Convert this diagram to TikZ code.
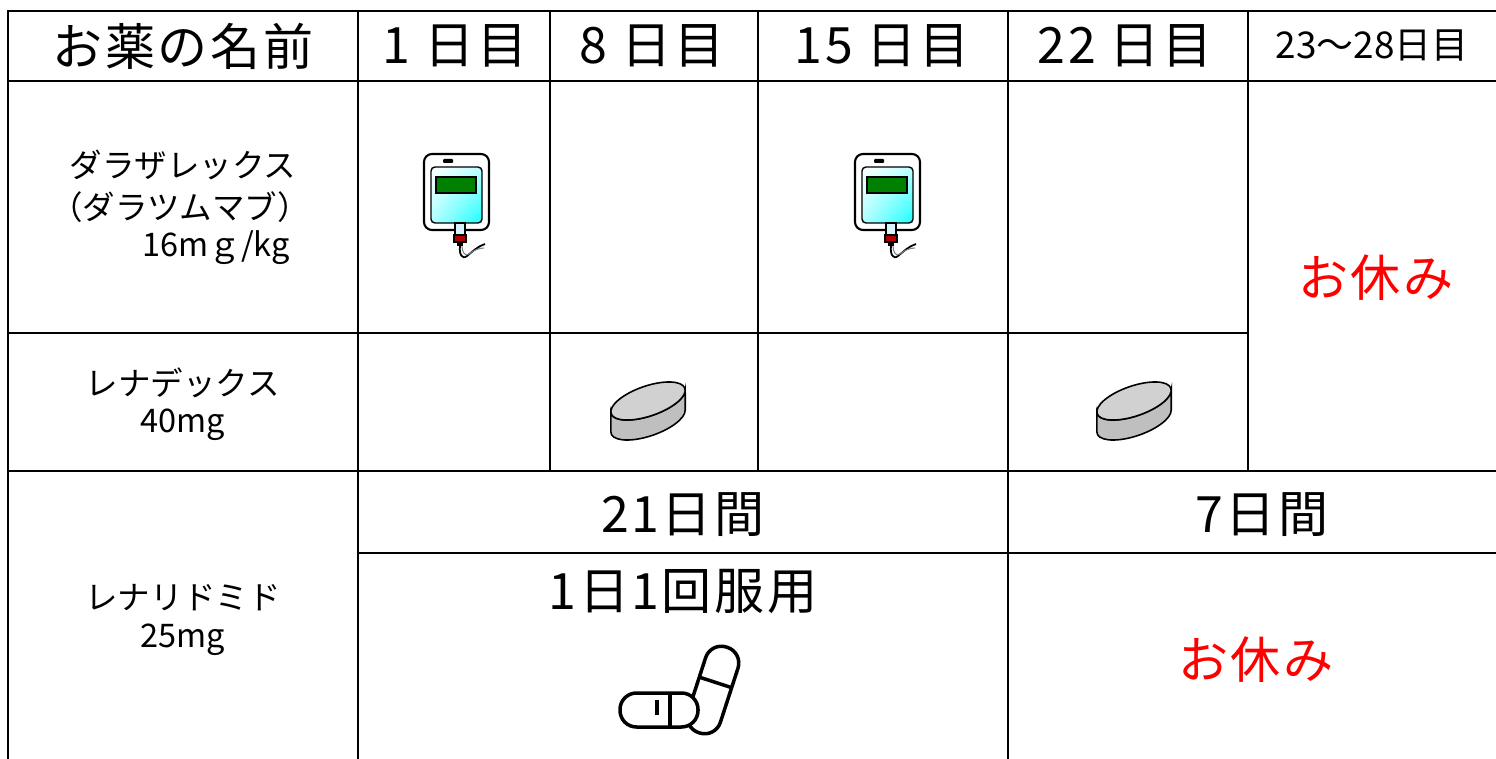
\documentclass[tikz,border=0pt]{standalone}
\usepackage{fontspec}
\setmainfont{Noto Sans CJK JP}
\usetikzlibrary{calc,shadings}
\tikzset{
	rule/.style={line width=1.6pt, line cap=rect},
	bigtxt/.style={font=\fontsize{28.5}{30}\selectfont\addfontfeatures{LetterSpace=5}, inner sep=0pt},
	midtxt/.style={font=\fontsize{18.5}{20}\selectfont, inner sep=0pt},
	resttxt/.style={bigtxt, text=red},
	capsule/.style={line width=2pt, rounded corners=0.33cm},
}
\def\ivbag(#1,#2){
	\begin{scope}[shift={(#1,#2)}]
		\draw[line width=1.2pt, fill=white, rounded corners=0.16cm] (-32,-30) rectangle (33,46);
		\shadedraw[line width=0.8pt, rounded corners=0.08cm, upper left=white, upper right=cyan!25, lower left=cyan!30, lower right=cyan!90] (-25,-23) rectangle (26,33);
		\draw[line width=0.8pt, fill=green!50!black] (-20,7) rectangle (20,23);
		\fill[black, rounded corners=0.02cm] (-13,37) rectangle (-3,41);
		\draw[line width=0.6pt, fill=cyan!15] (-1,-23) rectangle (9,-36);
		\draw[line width=0.6pt, fill=red!70!black] (-2,-35) rectangle (10,-42);
		\fill[black] (1,-42) rectangle (7,-46);
		\draw[line width=1pt] (4,-46) .. controls (3,-54) and (6,-60) .. (11,-56) .. controls (16,-52) and (22,-46) .. (29,-44);
		\draw[line width=0.6pt, black!50] (6,-46) .. controls (6,-52) and (9,-57) .. (13,-54) .. controls (18,-50) and (23,-48) .. (28,-48);
	\end{scope}
}
\def\tablet(#1,#2){
	\begin{scope}[shift={(#1,#2)}, rotate=19]
		\filldraw[line width=0.9pt, fill=black!25] (173:39 and 15) -- ++(-6.5,-18.9) arc[start angle=173, end angle=353, x radius=39, y radius=15] -- (353:39 and 15) arc[start angle=353, end angle=173, x radius=39, y radius=15] -- cycle;
		\filldraw[line width=0.9pt, fill=black!18] (0,0) ellipse[x radius=39, y radius=15];
	\end{scope}
}

\begin{document}
\begin{tikzpicture}[x=0.02cm, y=0.02cm]
			%%%%% START %%%%%
			\useasboundingbox (0,0) rectangle (1496,758);
			
			% table rules
			\draw[rule] (8,747) -- (1500,747);
			\draw[rule] (8,677) -- (1500,677);
			\draw[rule] (8,425) -- (1248,425);
			\draw[rule] (8,287) -- (1500,287);
			\draw[rule] (358,205) -- (1500,205);
			\draw[rule] (8,747) -- (8,-5);
			\draw[rule] (358,747) -- (358,-5);
			\draw[rule] (550,747) -- (550,287);
			\draw[rule] (758,747) -- (758,287);
			\draw[rule] (1008,747) -- (1008,-5);
			\draw[rule] (1248,747) -- (1248,287);
			
			% header
			\node[bigtxt] (hname) at (183,712) {お薬の名前};
			\node[bigtxt] (hday1) at (455,712) {1 日目};
			\node[bigtxt] (hday8) at (652,712) {8 日目};
			\node[bigtxt] (hday15) at (882,712) {15 日目};
			\node[bigtxt] (hday22) at (1125,712) {22 日目};
			\node[midtxt, font=\fontsize{21}{22}\selectfont] (hrest) at (1372,712) {23～28日目};
			
			% names
			\node[midtxt] (daraA) at (183,593) {ダラザレックス};
			\node[midtxt] (daraB) at (180,551) {（ダラツムマブ）};
			\node[midtxt] (daraC) at (216,510) {16mｇ/kg};
			\node[midtxt] (renaA) at (183,375) {レナデックス};
			\node[midtxt] (renaB) at (183,333) {40mg};
			\node[midtxt] (lenaA) at (183,160) {レナリドミド};
			\node[midtxt] (lenaB) at (183,118) {25mg};
			
			% cells
			\node[resttxt] (restA) at (1376,480) {お休み};
			\node[bigtxt] (days21) at (683,243) {21日間};
			\node[bigtxt] (days7) at (1262,243) {7日間};
			\node[bigtxt] (daily) at (683,166) {1日1回服用};
			\node[resttxt] (restB) at (1256,98) {お休み};
			
			\ivbag(456,558)
			\ivbag(887,558)
			\tablet(648,357)
			\tablet(1134,357)
			
			% capsules
			\begin{scope}[shift={(713,68)}, rotate=72]
				\draw[capsule, fill=white] (-45,-17) rectangle (45,17);
				\draw[line width=2pt] (8,-17) -- (8,17);
			\end{scope}
			\draw[capsule, fill=white] (620,31) rectangle (698,65);
			\draw[line width=2pt] (670,31) -- (670,65);
			\draw[line width=2pt] (657,43) -- (657,58);
			
			%%%%% END %%%%%
\end{tikzpicture}
\end{document}
